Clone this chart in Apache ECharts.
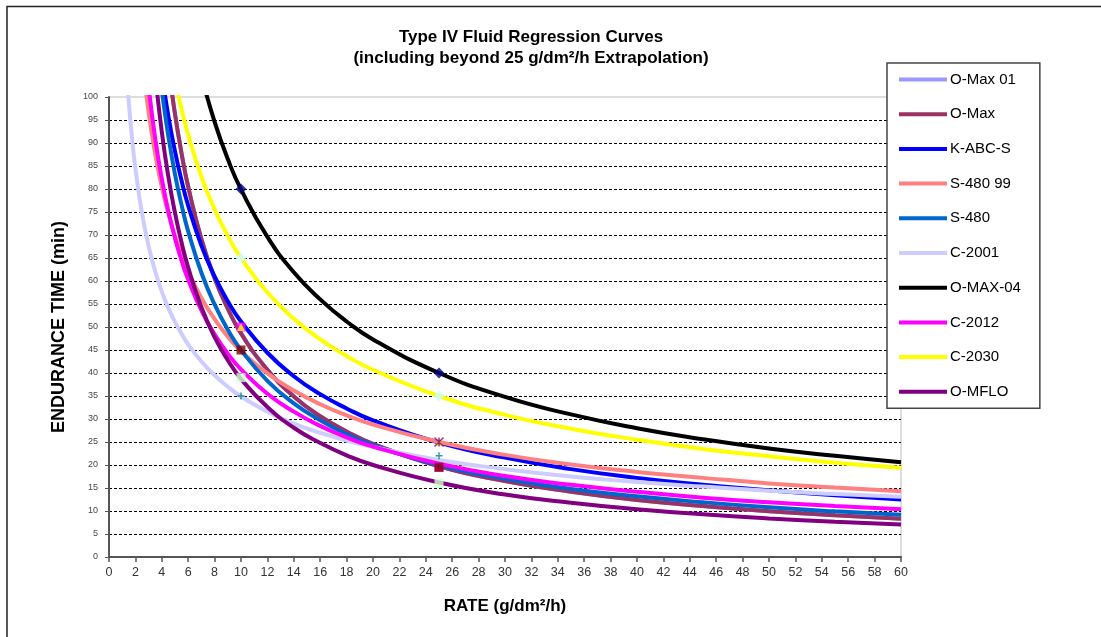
<!DOCTYPE html>
<html>
<head>
<meta charset="utf-8">
<script src="https://cdn.jsdelivr.net/npm/echarts@6/dist/echarts.min.js"></script>
<style>
html,body{margin:0;padding:0;background:#fff;}
#chart{width:1101px;height:637px;}
</style>
</head>
<body>
<div id="chart"></div>
<script>
// Rates (g/dm2/h) at which each curve is read
const rates = [1.25,1.5,1.75,2,2.5,3,3.5,4,4.5,5,5.5,6,7,8,9,10,12,14,16,18,20,25,30,35,40,45,50,55,60];

// Endurance time (min) at the rates above (null = above 100)
const oMax01 = [null,null,null,null,null,null,null,null,106.8,96.3,87.7,80.5,69.1,60.6,54.0,48.6,40.7,34.9,30.6,27.3,24.6,19.7,16.5,14.2,12.4,11.1,9.97,9.07,8.33];
const oMax   = [null,null,null,null,null,null,null,null,106.8,96.3,87.7,80.5,69.1,60.6,54.0,48.6,40.7,34.9,30.6,27.3,24.6,19.7,16.5,14.2,12.4,11.1,9.97,9.07,8.33];
const kAbcS  = [null,null,null,null,null,null,116.6,105.1,95.8,88.2,81.8,76.4,67.7,61.0,55.6,51.2,44.4,39.3,35.4,32.3,29.7,24.9,21.6,19.1,17.2,15.7,14.5,13.4,12.5];
const s48099 = [null,null,null,null,108.6,96.7,87.6,80.5,74.6,69.8,65.7,62.1,56.3,51.7,47.9,44.8,39.9,36.2,33.2,30.8,28.8,25.0,22.2,20.1,18.5,17.2,16.0,15.1,14.3];
const s480   = [null,null,null,null,null,null,114.2,101.5,91.4,83.2,76.5,70.8,61.8,54.9,49.4,45.0,38.3,33.4,29.7,26.7,24.3,20.0,17.0,14.8,13.2,11.9,10.8,9.92,9.19];
const c2001  = [109.3,98.9,90.9,84.5,74.7,67.6,62.1,57.7,54.1,51.1,48.5,46.2,42.5,39.5,37.0,34.9,31.6,29.0,27.0,25.3,23.9,21.1,19.1,17.5,16.3,15.3,14.4,13.7,13.1];
const oMax04 = [null,null,null,null,null,null,null,null,null,null,null,null,104.6,94.6,86.5,79.9,69.6,61.9,56.0,51.2,47.3,40.0,34.8,31.0,28.0,25.6,23.6,22.0,20.6];
const c2012  = [null,null,null,null,117.6,102.4,91.0,82.2,75.1,69.3,64.4,60.3,53.6,48.4,44.2,40.8,35.5,31.6,28.5,26.0,24.0,20.3,17.6,15.7,14.2,12.9,11.9,11.1,10.4];
const c2030  = [null,null,null,null,null,null,null,null,null,103.8,97.3,91.8,82.7,75.6,69.8,65.0,57.5,51.8,47.3,43.7,40.7,35.0,30.9,27.9,25.5,23.5,21.9,20.5,19.4];
const oMflo  = [null,null,null,null,null,null,104.9,92.4,82.6,74.8,68.3,62.9,54.3,47.8,42.8,38.7,32.6,28.1,24.8,22.1,20.0,16.2,13.6,11.8,10.4,9.27,8.39,7.66,7.06];

const seriesNames = ['O-Max 01','O-Max','K-ABC-S','S-480 99','S-480','C-2001','O-MAX-04','C-2012','C-2030','O-MFLO'];
const seriesValues = [oMax01,oMax,kAbcS,s48099,s480,c2001,oMax04,c2012,c2030,oMflo];
const seriesColors = ['#9999FF','#993366','#0000FF','#FF8080','#0066CC','#CCCCFF','#000000','#FF00FF','#FFFF00','#800080'];

// Measured data points (rate, time)
const ptsNavyDiamond = [[10,80],[25,40]];
const ptsCyanDiamond = [[10,65],[25,35]];
const ptsMagentaSquare = [[10,50],[25,19.5]];
const ptsYellowTriangle = [[10,50],[25,25]];
const ptsPurpleCross = [[25,25]];
const ptsDarkRedSquare = [[10,45],[25,19.5]];
const ptsGreenSquare = [[10,39],[25,16]];
const ptsTealPlus = [[10,35],[25,22]];

const xTicks = {min:0, max:60, interval:2};
const yTicks = {min:0, max:100, interval:5};

const FONT = 'Arial, "Liberation Sans", sans-serif';

const lineSeries = seriesNames.map((name, k) => ({
  name: name,
  type: 'line',
  smooth: true,
  symbol: 'none',
  clip: true,
  z: 3,
  lineStyle: {width: 4, color: seriesColors[k]},
  itemStyle: {color: seriesColors[k]},
  data: rates.map((r, i) => [r, seriesValues[k][i]]).filter(p => p[1] !== null)
}));

function pts(data, symbol, size, color, border, bw) {
  return {
    type: 'scatter', data: data, symbol: symbol, symbolSize: size, z: 4,
    silent: true,
    itemStyle: {color: color, borderColor: border || color, borderWidth: bw || 0}
  };
}

const markerSeries = [
  pts(ptsMagentaSquare, 'rect', 9, '#FF00FF'),
  pts(ptsDarkRedSquare, 'rect', 9, '#800000'),
  pts(ptsGreenSquare, 'rect', 9, '#CCFFCC'),
  pts(ptsCyanDiamond, 'diamond', 11, '#CCFFFF'),
  pts(ptsNavyDiamond, 'diamond', 11, '#000080'),
  pts(ptsYellowTriangle, 'triangle', 8, '#FFFF00'),
  pts(ptsPurpleCross, 'path://M0,0L10,10M10,0L0,10M5,0L5,10', 9, 'none', '#800080', 1.5),
  pts(ptsTealPlus, 'path://M5,0L5,10M0,5L10,5', 7, 'none', '#008080', 1.5)
];

const chart = echarts.init(document.getElementById('chart'));
chart.setOption({
  backgroundColor: '#fff',
  animation: false,
  textStyle: {fontFamily: FONT},
  title: {
    text: 'Type IV Fluid Regression Curves\n(including beyond 25 g/dm²/h Extrapolation)',
    left: 526,
    textAlign: 'center',
    top: 22,
    textStyle: {fontSize: 17, fontWeight: 'bold', color: '#000', lineHeight: 21, fontFamily: FONT}
  },
  graphic: [{
    type: 'polyline',
    shape: {points: [[7,640],[7,6.5],[1105,6.5]]},
    style: {stroke: '#222', lineWidth: 1.5, fill: null},
    silent: true
  }],
  legend: {
    data: seriesNames,
    orient: 'vertical',
    left: 887,
    top: 63,
    padding: [9, 19, 9, 10],
    itemGap: 19.7,
    itemWidth: 48,
    itemHeight: 14,
    backgroundColor: '#fff',
    borderColor: '#444',
    borderWidth: 1.5,
    itemStyle: {opacity: 0},
    lineStyle: {width: 4},
    textStyle: {fontSize: 15, color: '#000', fontFamily: FONT, padding: [0,0,0,-2]}
  },
  grid: {
    left: 109, right: 200, top: 97, bottom: 80,
    show: true, borderColor: '#bbb', borderWidth: 1, backgroundColor: '#fff'
  },
  xAxis: {
    type: 'value',
    min: xTicks.min, max: xTicks.max, interval: xTicks.interval,
    name: 'RATE (g/dm²/h)',
    nameLocation: 'middle',
    nameGap: 41,
    nameTextStyle: {fontSize: 17, fontWeight: 'bold', color: '#000', fontFamily: FONT},
    axisLine: {lineStyle: {color: '#555', width: 2}},
    axisTick: {show: true, inside: false, length: 5, lineStyle: {color: '#555', width: 1.5}},
    axisLabel: {fontSize: 12.5, color: '#333', margin: 9},
    splitLine: {show: false}
  },
  yAxis: {
    type: 'value',
    min: yTicks.min, max: yTicks.max, interval: yTicks.interval,
    name: 'ENDURANCE TIME (min)',
    nameLocation: 'middle',
    nameGap: 41,
    nameRotate: 90,
    nameTextStyle: {fontSize: 18, fontWeight: 'bold', color: '#000', fontFamily: FONT},
    axisLine: {show: true, lineStyle: {color: '#555', width: 2}},
    axisTick: {show: true, inside: false, length: 4, lineStyle: {color: '#555', width: 1}},
    axisLabel: {fontSize: 9, color: '#444', margin: 11},
    splitLine: {show: true, showMinLine: false, showMaxLine: false, lineStyle: {color: '#000', width: 1, type: [3, 2]}}
  },
  series: lineSeries.concat(markerSeries)
});
</script>
</body>
</html>
